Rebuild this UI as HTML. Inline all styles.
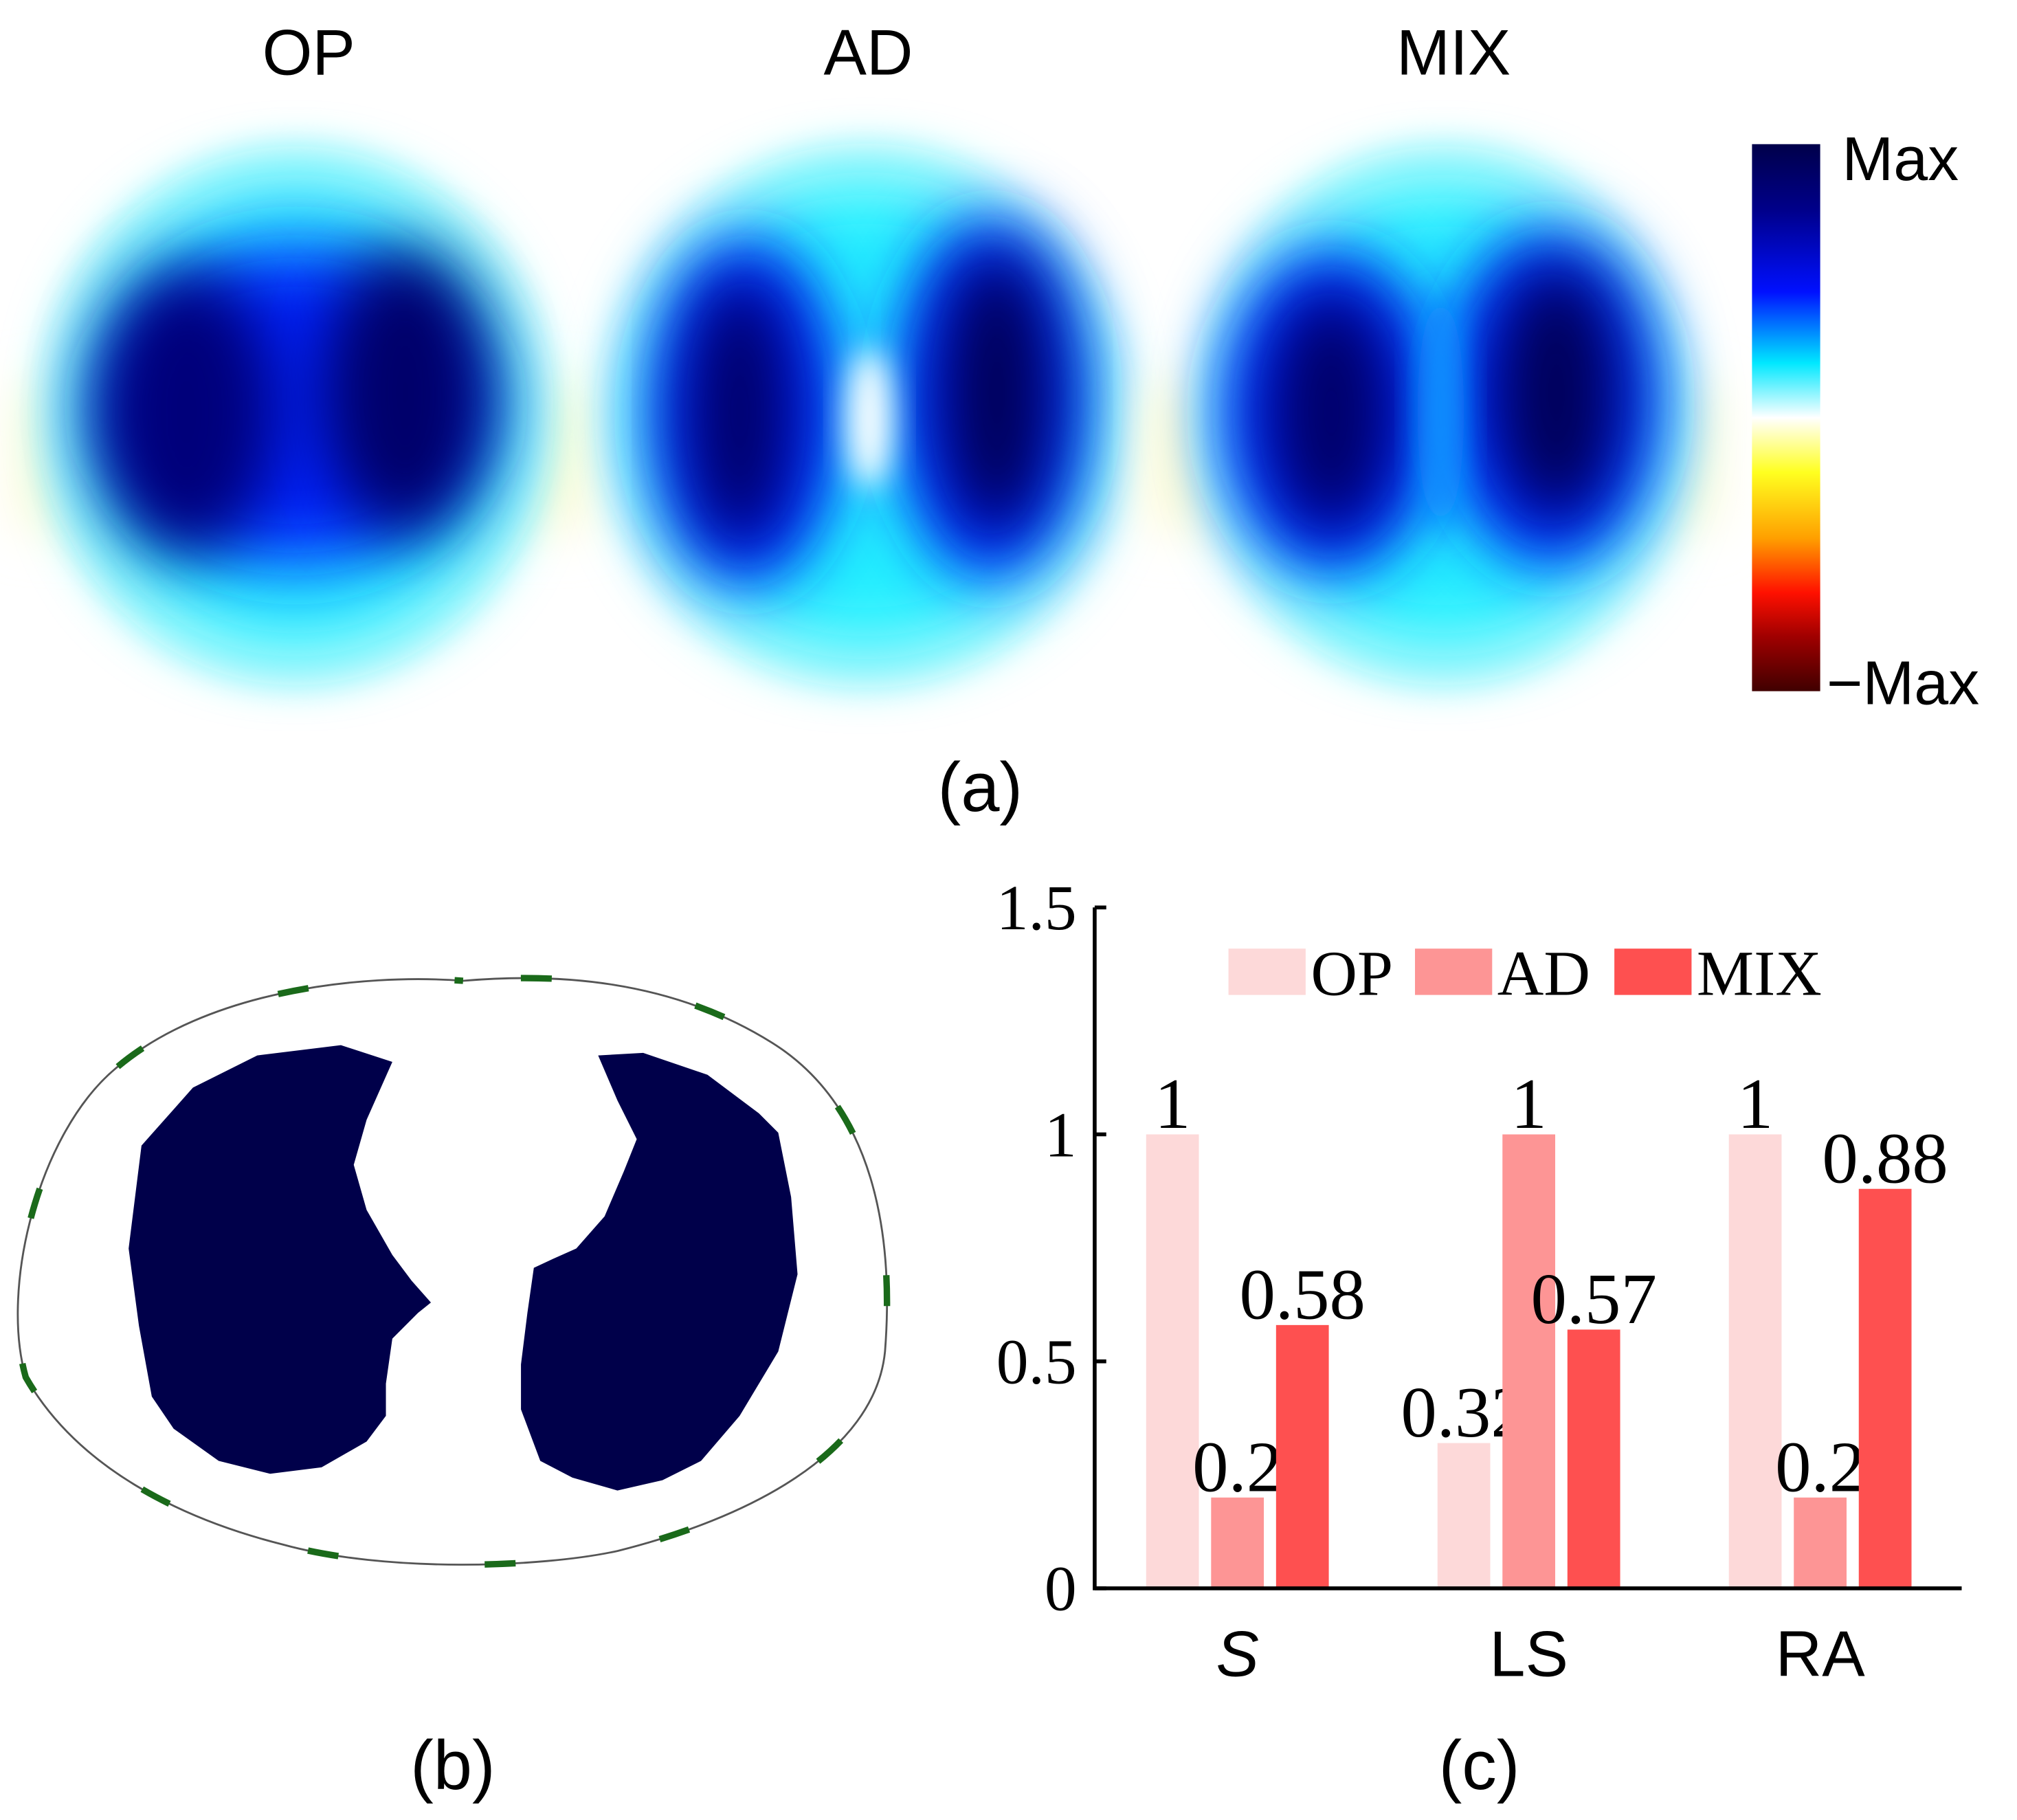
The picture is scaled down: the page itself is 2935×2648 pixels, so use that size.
<!DOCTYPE html>
<html><head><meta charset="utf-8"><style>
html,body{margin:0;padding:0;background:#fff;}
svg{display:block;}
</style></head><body>
<svg id="fig" width="2935" height="2648" viewBox="0 0 1568 1414" preserveAspectRatio="none" xmlns="http://www.w3.org/2000/svg">
<defs>
<filter id="b30" x="-50%" y="-50%" width="200%" height="200%"><feGaussianBlur stdDeviation="28"/></filter>
<filter id="b25" x="-50%" y="-50%" width="200%" height="200%"><feGaussianBlur stdDeviation="25"/></filter>
<filter id="b20" x="-50%" y="-50%" width="200%" height="200%"><feGaussianBlur stdDeviation="20"/></filter>
<filter id="b15" x="-50%" y="-50%" width="200%" height="200%"><feGaussianBlur stdDeviation="12"/></filter>
<linearGradient id="cbar" x1="0" y1="0" x2="0" y2="1">
<stop offset="0" stop-color="#00004a"/><stop offset="0.12" stop-color="#00008a"/>
<stop offset="0.27" stop-color="#0010ff"/><stop offset="0.4" stop-color="#00e8ff"/>
<stop offset="0.5" stop-color="#ffffff"/><stop offset="0.6" stop-color="#ffff20"/>
<stop offset="0.72" stop-color="#ffa000"/><stop offset="0.82" stop-color="#ff1000"/>
<stop offset="0.9" stop-color="#a00000"/><stop offset="1" stop-color="#400000"/>
</linearGradient>
</defs>

<g font-family="Liberation Sans, sans-serif" font-size="50" fill="#000" text-anchor="middle">
<text x="240" y="58">OP</text>
<text x="675" y="58">AD</text>
<text x="1130" y="58">MIX</text>
<text x="762" y="630" font-size="54">(a)</text>
<text x="352" y="1390" font-size="54">(b)</text>
<text x="1150" y="1390" font-size="54">(c)</text>
</g>

<g>
<rect x="12" y="300" width="450" height="110" fill="#fffbd8" filter="url(#b20)"/>
<ellipse cx="230" cy="323" rx="200" ry="212" fill="#b8f8fc" filter="url(#b15)"/>
<ellipse cx="230" cy="323" rx="170" ry="180" fill="#20f0ff" filter="url(#b30)"/>
<ellipse cx="230" cy="315" rx="150" ry="125" fill="#0020ff" filter="url(#b30)"/>
<ellipse cx="145" cy="320" rx="70" ry="110" fill="#00007a" filter="url(#b25)"/>
<ellipse cx="315" cy="305" rx="65" ry="110" fill="#00006a" filter="url(#b25)"/>
</g>
<g>
<ellipse cx="673" cy="323" rx="205" ry="212" fill="#b8f8fc" filter="url(#b15)"/>
<ellipse cx="673" cy="323" rx="180" ry="182" fill="#20f0ff" filter="url(#b30)"/>
<ellipse cx="580" cy="320" rx="75" ry="135" fill="#0020ff" filter="url(#b25)"/>
<ellipse cx="770" cy="310" rx="75" ry="140" fill="#0020ff" filter="url(#b25)"/>
<ellipse cx="575" cy="320" rx="42" ry="105" fill="#00006a" filter="url(#b25)"/>
<ellipse cx="775" cy="305" rx="45" ry="110" fill="#00005a" filter="url(#b25)"/>
<ellipse cx="676" cy="325" rx="18" ry="55" fill="#ffffff" filter="url(#b15)"/>
</g>
<g>
<rect x="890" y="300" width="445" height="110" fill="#fffbd8" filter="url(#b20)"/>
<ellipse cx="1122" cy="323" rx="195" ry="212" fill="#b8f8fc" filter="url(#b15)"/>
<ellipse cx="1122" cy="323" rx="170" ry="180" fill="#20f0ff" filter="url(#b30)"/>
<ellipse cx="1035" cy="320" rx="85" ry="125" fill="#0020ff" filter="url(#b25)"/>
<ellipse cx="1205" cy="310" rx="85" ry="130" fill="#0020ff" filter="url(#b25)"/>
<ellipse cx="1035" cy="320" rx="50" ry="95" fill="#00006a" filter="url(#b25)"/>
<ellipse cx="1210" cy="305" rx="50" ry="100" fill="#00005a" filter="url(#b25)"/>
<ellipse cx="1120" cy="320" rx="18" ry="90" fill="#1090ff" filter="url(#b15)"/>
</g>

<rect x="1362" y="112" width="53" height="425" fill="url(#cbar)"/>
<g font-family="Liberation Sans, sans-serif" font-size="48" fill="#000">
<text x="1432" y="140">Max</text>
<text x="1420" y="547">−Max</text>
</g>

<g>
<path d="M360,762 C430,756 520,760 600,810 C680,860 695,960 688,1050 C680,1130 580,1180 480,1205 C420,1218 300,1222 220,1200 C140,1180 60,1140 20,1070 C0,1000 30,880 90,830 C160,770 280,756 360,762 Z" fill="none" stroke="#555" stroke-width="1.5"/>
<path d="M360,762 C430,756 520,760 600,810 C680,860 695,960 688,1050 C680,1130 580,1180 480,1205 C420,1218 300,1222 220,1200 C140,1180 60,1140 20,1070 C0,1000 30,880 90,830 C160,770 280,756 360,762 Z" fill="none" stroke="#1a6a1a" stroke-width="5" stroke-dasharray="24 114" stroke-dashoffset="-45"/>
<path d="M265,812 L305,825 L285,870 L275,905 L285,940 L305,975 L320,995 L335,1012 L325,1020 L305,1040 L300,1075 L300,1100 L285,1120 L250,1140 L210,1145 L170,1135 L135,1110 L118,1085 L108,1030 L100,970 L110,890 L150,845 L200,820 Z" fill="#00004a"/>
<path d="M465,820 L500,818 L550,835 L590,865 L605,880 L615,930 L620,990 L605,1050 L575,1100 L545,1135 L515,1150 L480,1158 L445,1148 L420,1135 L405,1095 L405,1060 L410,1020 L415,985 L430,978 L448,970 L470,945 L485,910 L495,885 L480,855 Z" fill="#00004a"/>
</g>

<g id="chart"></g>

<script>
const categories = ['S', 'LS', 'RA'];
const seriesNames = ['OP', 'AD', 'MIX'];
const opValues = [1, 0.32, 1];
const adValues = [0.2, 1, 0.2];
const mixValues = [0.58, 0.57, 0.88];
const valueLabels = [['1', '0.32', '1'], ['0.2', '1', '0.2'], ['0.58', '0.57', '0.88']];
const yTicks = [0, 0.5, 1, 1.5];
const yTickLabels = ['0', '0.5', '1', '1.5'];

const NS = 'http://www.w3.org/2000/svg';
const colors = ['#fdd9d9', '#fd9595', '#fe5050'];
const x0 = 851, xEnd = 1525, yZero = 1234, yTop = 705;
function yScale(v) { return yZero - (v / 1.5) * (yZero - yTop); }
function groupX(i) { return 891 + i * 226.5; }
function mk(tag, attrs, parent) {
  const e = document.createElementNS(NS, tag);
  for (const k in attrs) e.setAttribute(k, attrs[k]);
  parent.appendChild(e);
  return e;
}
const g = document.getElementById('chart');
const series = [opValues, adValues, mixValues];
series.forEach((vals, s) => {
  vals.forEach((v, i) => {
    const bx = groupX(i) + s * 50.5;
    const r = mk('rect', {x: bx, y: yScale(v), width: 41, height: yZero - yScale(v), fill: colors[s]}, g);
    
    
    const t = mk('text', {x: bx + 20.5, y: yScale(v) - 5, 'text-anchor': 'middle', 'font-family': 'Liberation Serif, serif', 'font-size': 56, fill: '#000'}, g);
    t.textContent = valueLabels[s][i];
    
    
  });
});
const ax = mk('path', {d: `M${x0},${yTop} L${x0},${yZero} L${xEnd},${yZero}`, fill: 'none', stroke: '#000', 'stroke-width': 3}, g);


yTicks.forEach((v, i) => {
  const tk = mk('line', {x1: x0, x2: x0 + 9, y1: yScale(v), y2: yScale(v), stroke: '#000', 'stroke-width': 3}, g);
  
  
  const tl = mk('text', {x: x0 - 14, y: yScale(v) + 17, 'text-anchor': 'end', 'font-family': 'Liberation Serif, serif', 'font-size': 50, fill: '#000'}, g);
  tl.textContent = yTickLabels[i];
  
  
});
categories.forEach((c, i) => {
  const t = mk('text', {x: groupX(i) + 71, y: 1302, 'text-anchor': 'middle', 'font-family': 'Liberation Sans, sans-serif', 'font-size': 50, fill: '#000'}, g);
  if (i === 0) t.setAttribute('font-style', 'italic');
  t.textContent = c;
  
  
});
const legX = [955, 1100, 1255];
seriesNames.forEach((n, s) => {
  const r = mk('rect', {x: legX[s], y: 737, width: 60, height: 36, fill: colors[s]}, g);
  
  
  const t = mk('text', {x: legX[s] + 64, y: 773, 'font-family': 'Liberation Serif, serif', 'font-size': 50, fill: '#000'}, g);
  t.textContent = n;
  
  
});
</script>
</svg>
</body></html>
